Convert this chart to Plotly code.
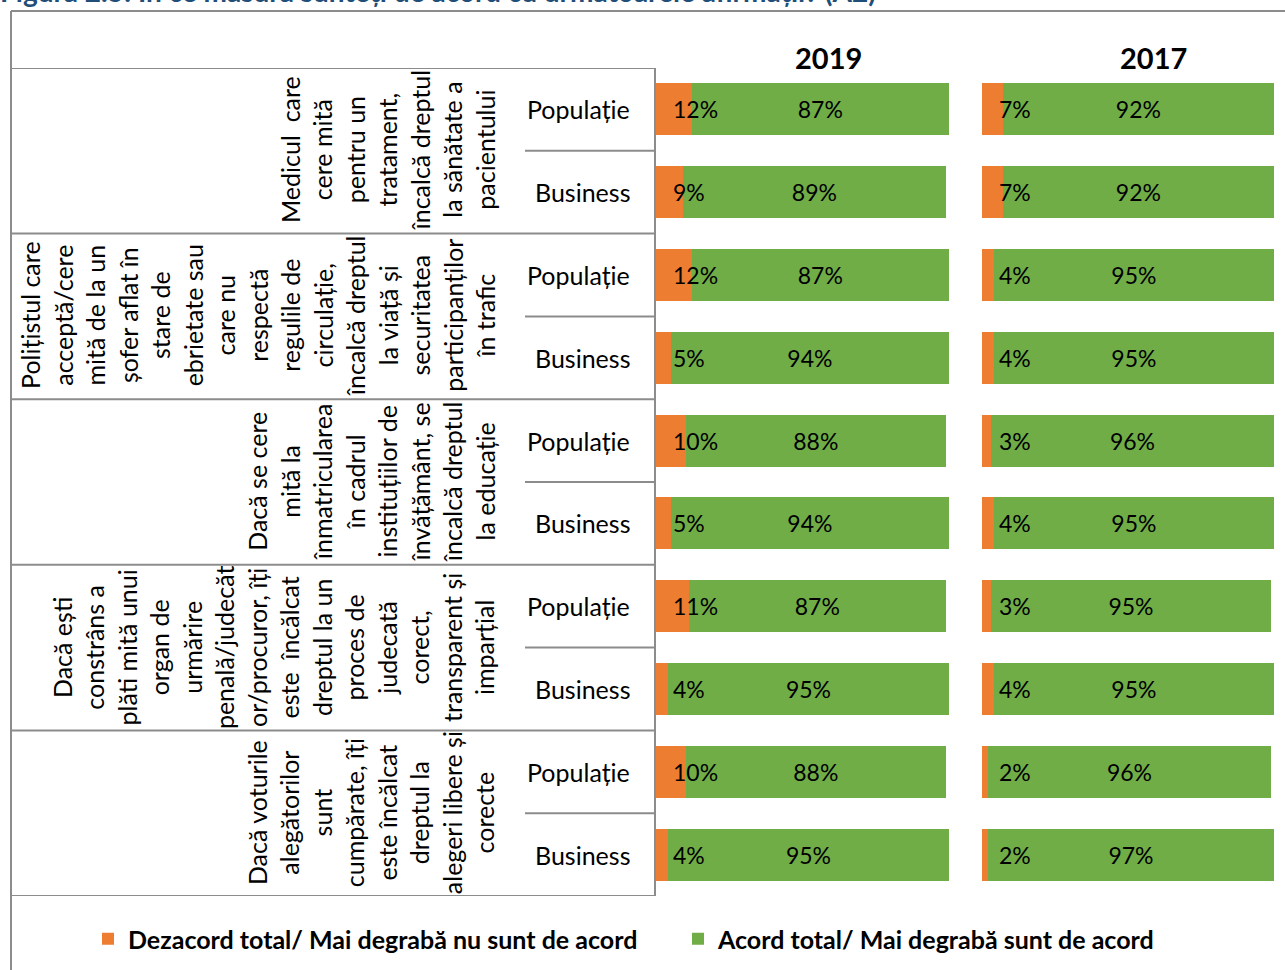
import plotly.graph_objects as go

W, H = 1285, 970


def px(x):
    return x / W


def py(y):
    return 1 - y / H


# ---------------- data ----------------
title_text = "Figura 2.5: În ce măsură sunteți de acord cu următoarele afirmații? (A2)"
statements = [
    ["Medicul  care", "cere mită", "pentru un", "tratament,", "încalcă dreptul",
     "la sănătate a", "pacientului"],
    ["Polițistul care", "acceptă/cere", "mită de la un", "șofer aflat în", "stare de",
     "ebrietate sau", "care nu", "respectă", "regulile de", "circulație,",
     "încalcă dreptul", "la viață și", "securitatea", "participanților", "în trafic"],
    ["Dacă se cere", "mită la", "înmatricularea", "în cadrul", "instituțiilor de",
     "învățământ, se", "încalcă dreptul", "la educație"],
    ["Dacă ești", "constrâns a", "plăti mită unui", "organ de", "urmărire",
     "penală/judecăt", "or/procuror, îți", "este  încălcat", "dreptul la un",
     "proces de", "judecată", "corect,", "transparent și", "imparțial"],
    ["Dacă voturile", "alegătorilor", "sunt", "cumpărate, îți", "este încălcat",
     "dreptul la", "alegeri libere și", "corecte"],
]
segments = ["Populație", "Business"]
years = ["2019", "2017"]
series_names = ["Dezacord total/ Mai degrabă nu sunt de acord",
                "Acord total/ Mai degrabă sunt de acord"]

disagree_2019 = [12, 9, 12, 5, 10, 5, 11, 4, 10, 4]
agree_2019 = [87, 89, 87, 94, 88, 94, 87, 95, 88, 95]
disagree_2017 = [7, 7, 4, 4, 3, 4, 3, 4, 2, 2]
agree_2017 = [92, 92, 95, 95, 96, 95, 95, 95, 96, 97]

# ---------------- styles ----------------
ORANGE = "#ED7D31"
GREEN = "#70AD47"
GRID = "#8C8C8C"
FONT = "Lato"

rows = [f"{g}|{s}" for g in range(len(statements)) for s in segments]

fig = go.Figure()

panel_data = [(disagree_2019, agree_2019, "x"), (disagree_2017, agree_2017, "x2")]
for i, (dis, agr, xa) in enumerate(panel_data):
    fig.add_trace(go.Bar(
        y=rows, x=dis, orientation="h", name=series_names[0],
        marker=dict(color=ORANGE, line=dict(width=0)),
        xaxis=xa, yaxis="y", legendgroup="dis", showlegend=(i == 0),
        hoverinfo="skip",
    ))
    fig.add_trace(go.Bar(
        y=rows, x=agr, orientation="h", name=series_names[1],
        marker=dict(color=GREEN, line=dict(width=0)),
        text=[f"{v}%" for v in agr], textposition="inside",
        insidetextanchor="middle", textangle=0,
        textfont=dict(family=FONT, size=23, color="black"),
        xaxis=xa, yaxis="y", legendgroup="agr", showlegend=(i == 0),
        hoverinfo="skip",
    ))
    for r, v in zip(rows, dis):
        fig.add_annotation(x=0, y=r, xref=xa, yref="y", text=f"{v}%",
                           showarrow=False, xanchor="left", yanchor="middle",
                           xshift=15,
                           font=dict(family=FONT, size=23, color="black"))

# row labels
for r in rows:
    fig.add_annotation(x=px(632), y=r, xref="paper", yref="y",
                       text=r.split("|")[1], showarrow=False,
                       xanchor="right", yanchor="middle",
                       font=dict(family=FONT, size=25, color="black"))

# statement labels (rotated)
for g, lines in enumerate(statements):
    fig.add_annotation(x=px(502), y=2 * g + 0.5, xref="paper", yref="y",
                       text="<br>".join(lines), textangle=-90, align="center",
                       showarrow=False, xanchor="right", yanchor="middle",
                       font=dict(family=FONT, size=25, color="black"))

# panel titles
for yr, cx in zip(years, [828, 1153]):
    fig.add_annotation(x=px(cx), y=py(57), xref="paper", yref="paper",
                       text=f"<b>{yr}</b>", showarrow=False,
                       xanchor="center", yanchor="middle",
                       font=dict(family=FONT, size=29, color="black"))

# figure title (cut at top, as in the reference)
fig.add_annotation(x=px(-2), y=py(10), xref="paper", yref="paper",
                   text=f"<b>{title_text}</b>", showarrow=False,
                   xanchor="left", yanchor="bottom",
                   font=dict(family=FONT, size=28, color="#1F4E79"))

# table lines
shapes = []
n = len(rows)
for g in range(len(statements) + 1):
    yb = 2 * g - 0.5
    shapes.append(dict(type="line", xref="paper", yref="y", x0=px(11), x1=px(656),
                       y0=yb, y1=yb, line=dict(color=GRID, width=2)))
for g in range(len(statements)):
    ym = 2 * g + 0.5
    shapes.append(dict(type="line", xref="paper", yref="y", x0=px(525), x1=px(656),
                       y0=ym, y1=ym, line=dict(color=GRID, width=2)))
# outer frame
shapes.append(dict(type="line", xref="paper", yref="paper", x0=px(11), x1=1,
                   y0=py(11), y1=py(11), line=dict(color=GRID, width=2)))
shapes.append(dict(type="line", xref="paper", yref="paper", x0=px(11), x1=px(11),
                   y0=py(11), y1=0, line=dict(color=GRID, width=2)))

fig.update_layout(
    width=W, height=H,
    margin=dict(l=0, r=0, t=0, b=0),
    paper_bgcolor="white", plot_bgcolor="white",
    barmode="stack", bargap=0.37,
    font=dict(family=FONT, color="black"),
    shapes=shapes,
    xaxis=dict(domain=[px(656), px(952)], range=[0, 100], anchor="y",
               showgrid=False, zeroline=False, showticklabels=False, showline=False),
    xaxis2=dict(domain=[px(982), px(1277)], range=[0, 100], anchor="y",
                showgrid=False, zeroline=False, showticklabels=False, showline=False),
    yaxis=dict(domain=[py(896), py(68)], categoryorder="array", categoryarray=rows,
               range=[n - 0.5, -0.5], showticklabels=False, showgrid=False,
               zeroline=False, showline=True, linecolor=GRID, linewidth=2, ticks=""),
    legend=dict(orientation="h", x=px(88), y=py(939), xanchor="left", yanchor="middle",
                font=dict(family=FONT, size=25, color="black", weight="bold"),
                itemwidth=30, entrywidth=545, entrywidthmode="pixels",
                traceorder="normal", bgcolor="rgba(0,0,0,0)"),
    showlegend=True,
)

fig.write_html("out.html", config={"displayModeBar": False},
               post_script="document.body.style.margin='0px';")
